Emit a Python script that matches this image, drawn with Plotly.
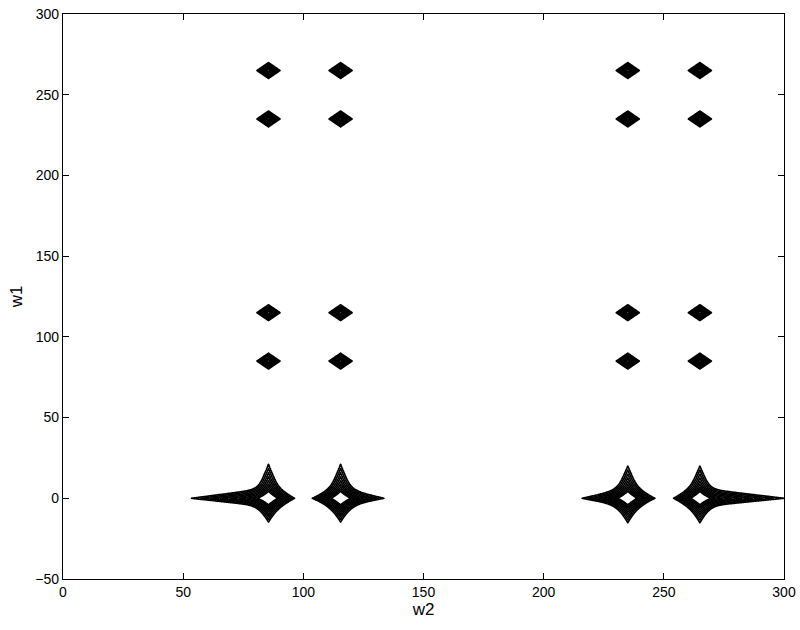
import numpy as np
import plotly.graph_objects as go

# ---- data ----
# contour levels (geometric): lowest level, ratio between highest and lowest, count
level_low = 1.0
level_span = 64.0
n_levels = 9

# strong peaks on the w1 = 0 row (star shaped, with tails along w2)
big_w2 = [85.5, 115.5, 235.0, 265.0]
big_w1 = [0.0, 0.0, 0.0, 0.0]
big_amp = [64.0, 64.0, 64.0, 64.0]          # each star component
big_core_amp = [560.0, 560.0, 560.0, 560.0]  # central core
big_core_w = [1.55, 1.55, 1.55, 1.55]
# vertical arm decay lengths (up, down, sideways)
v_up = [5.05, 5.05, 4.8, 4.8]
v_down = [3.49, 3.49, 3.6, 3.6]
v_side = [1.4, 1.4, 1.4, 1.4]
# horizontal arm decay lengths (left, right, up, down)
h_left = [7.7, 2.6, 4.57, 2.24]
h_right = [2.16, 4.33, 2.4, 8.4]
h_up = [1.5, 1.5, 1.5, 1.5]
h_down = [1.25, 1.25, 1.25, 1.25]

# weak cross peaks (small diamonds)
small_w2 = [85.5, 115.5, 235.0, 265.0]
small_w1 = [85.0, 115.0, 235.0, 265.0]
small_amp = 148.0
small_wx = 0.96
small_wy = 0.98

x_ticks = [0, 50, 100, 150, 200, 250, 300]
y_ticks = [-50, 0, 50, 100, 150, 200, 250, 300]

# ---- grid (finer near the peaks) ----
xs = [np.arange(0, 300.001, 2.0), np.arange(44, 146, 0.5), np.arange(200, 300.001, 0.5)]
for c in small_w2:
    xs.append(np.arange(c - 6, c + 6.001, 0.2))
x = np.unique(np.round(np.concatenate(xs), 3))
x = x[(x >= 0) & (x <= 300)]
ys = [np.arange(-50, 300.001, 2.0), np.arange(-17, 24.001, 0.25)]
for r in small_w1:
    ys.append(np.arange(r - 6, r + 6.001, 0.2))
y = np.unique(np.round(np.concatenate(ys), 3))

X, Y = np.meshgrid(x, y)


def side(d, neg, pos):
    return np.where(d < 0, -d / neg, d / pos)


Z = np.zeros_like(X)
for i in range(len(big_w2)):
    dx = X - big_w2[i]
    dy = Y - big_w1[i]
    Z += big_amp[i] * np.exp(-np.abs(dx) / v_side[i] - side(dy, v_down[i], v_up[i]))
    Z += big_amp[i] * np.exp(-side(dx, h_left[i], h_right[i]) - side(dy, h_down[i], h_up[i]))
    Z += big_core_amp[i] * np.exp(-(np.abs(dx) + np.abs(dy)) / big_core_w[i])
for cx in small_w2:
    for cy in small_w1:
        Z += small_amp * np.exp(-np.abs(X - cx) / small_wx - np.abs(Y - cy) / small_wy)

LZ = np.log(np.maximum(Z, 1e-8)).astype(np.float32)
lo = np.log(level_low)
hi = np.log(level_low * level_span)

fig = go.Figure(go.Contour(
    x=x.astype(np.float32), y=y.astype(np.float32), z=LZ,
    contours=dict(coloring="lines", start=lo, end=hi + 1e-6, size=(hi - lo) / (n_levels - 1)),
    colorscale=[[0, "black"], [1, "black"]],
    line=dict(width=1.7),
    showscale=False, hoverinfo="skip",
))

axis_common = dict(showline=True, linecolor="black", linewidth=1.2, mirror="ticks",
                   ticks="inside", ticklen=6, tickcolor="black", showgrid=False,
                   zeroline=False, automargin=False, tickfont=dict(size=14, color="black"))
fig.update_layout(
    width=800, height=630, autosize=False,
    margin=dict(l=63, r=16, t=14, b=51, autoexpand=False),
    paper_bgcolor="white", plot_bgcolor="white",
    font=dict(family="Liberation Sans, Arial, sans-serif", size=14, color="black"),
    xaxis=dict(range=[0, 300], tickvals=x_ticks, title=dict(text="w2", standoff=4), **axis_common),
    yaxis=dict(range=[-50, 300], tickvals=y_ticks, title=dict(text="w1", standoff=8), **axis_common),
)
fig.write_html(
    "out.html",
    config={"displayModeBar": False},
    post_script="document.body.style.margin='0';document.body.style.overflow='hidden';",
)
